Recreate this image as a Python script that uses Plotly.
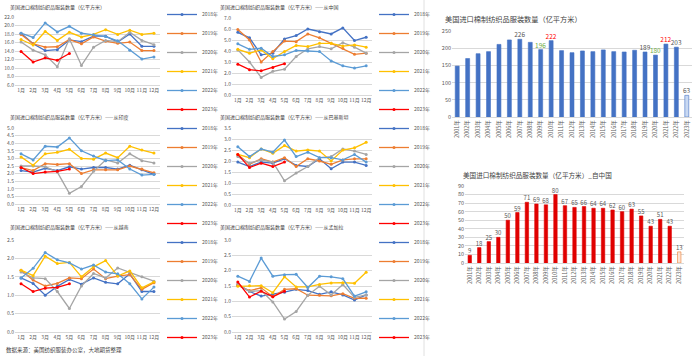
import plotly.graph_objects as go

W, H = 700, 356
FONT = "Noto Sans CJK SC, Noto Sans, sans-serif"
TXT = "#595959"
GRID = "#D9D9D9"

months = ["1月", "2月", "3月", "4月", "5月", "6月", "7月", "8月", "9月", "10月", "11月", "12月"]
years = ["2018年", "2019年", "2020年", "2021年", "2022年", "2023年"]
year_colors = ["#4472C4", "#ED7D31", "#A5A5A5", "#FFC000", "#5B9BD5", "#FF0000"]

# ---- monthly data (亿平方米) ----
total_2018 = [18.2, 15.7, 14.1, 14.3, 16.6, 16.2, 17.5, 17.5, 16.1, 18.0, 15.1, 15.1]
total_2019 = [17.9, 15.7, 14.9, 15.0, 16.7, 15.7, 17.3, 16.3, 15.8, 16.1, 14.1, 14.1]
total_2020 = [16.1, 14.2, 13.1, 10.3, 16.9, 10.6, 14.9, 16.5, 16.2, 18.4, 16.5, 15.5]
total_2021 = [16.7, 15.4, 18.6, 16.5, 18.4, 17.3, 17.9, 19.0, 17.9, 18.9, 17.9, 18.2]
total_2022 = [18.2, 17.2, 20.6, 18.5, 19.8, 18.2, 17.8, 17.4, 16.4, 14.2, 12.1, 12.6]
total_2023 = [13.9, 11.4, 12.4, 11.8, 13.4]

china_2018 = [5.7, 5.2, 3.65, 3.8, 5.1, 5.4, 6.0, 5.75, 5.55, 6.1, 4.95, 5.25]
china_2019 = [5.95, 5.0, 3.0, 3.95, 4.9, 4.85, 5.55, 5.2, 4.7, 4.25, 3.7, 3.8]
china_2020 = [4.1, 3.0, 1.6, 2.15, 2.35, 3.5, 4.2, 4.4, 4.2, 4.75, 4.35, 3.8]
china_2021 = [4.15, 3.8, 4.1, 3.3, 3.95, 4.5, 4.4, 4.7, 4.7, 4.45, 4.55, 4.35]
china_2022 = [4.65, 4.15, 4.25, 3.5, 3.65, 4.05, 4.0, 3.95, 3.1, 2.65, 2.45, 2.65]
china_2023 = [2.8, 2.3, 2.2, 2.5, 2.85]

india_2018 = [2.2, 2.1, 2.35, 2.2, 2.45, 2.3, 2.4, 2.4, 2.3, 2.55, 2.25, 1.95]
india_2019 = [2.4, 2.2, 2.65, 2.6, 2.65, 2.0, 2.25, 2.25, 2.25, 2.5, 2.3, 2.05]
india_2020 = [2.5, 2.5, 2.45, 2.1, 0.7, 1.15, 2.15, 2.9, 2.7, 3.3, 2.85, 2.7]
india_2021 = [3.1, 2.55, 3.3, 3.4, 3.6, 3.0, 2.95, 3.35, 3.05, 3.8, 3.55, 3.35]
india_2022 = [3.3, 2.9, 3.8, 3.75, 4.35, 3.5, 3.15, 2.85, 2.9, 2.3, 1.9, 1.95]
india_2023 = [2.4, 2.0, 2.1, 2.15, 2.3]

pak_2018 = [1.95, 1.75, 1.95, 1.9, 2.1, 1.8, 1.75, 2.1, 1.65, 1.95, 1.95, 1.8]
pak_2019 = [2.3, 1.85, 2.1, 1.95, 2.15, 1.75, 2.1, 2.0, 1.85, 2.05, 2.1, 2.1]
pak_2020 = [2.2, 1.9, 2.05, 1.95, 1.1, 1.45, 1.75, 2.15, 2.2, 2.55, 2.45, 2.3]
pak_2021 = [2.3, 2.15, 2.55, 2.35, 2.7, 2.45, 2.5, 2.45, 2.0, 2.5, 2.6, 2.85]
pak_2022 = [2.65, 2.2, 2.55, 2.4, 2.95, 2.2, 2.4, 2.15, 2.15, 2.05, 2.3, 1.95]
pak_2023 = [2.3, 1.7, 1.9, 1.75, 1.95]

vn_2018 = [1.47, 1.32, 1.0, 1.24, 1.43, 1.3, 1.47, 1.35, 1.31, 1.58, 1.1, 1.1]
vn_2019 = [1.68, 1.41, 1.25, 1.32, 1.47, 1.45, 1.71, 1.45, 1.52, 1.56, 1.16, 1.34]
vn_2020 = [1.63, 1.47, 1.45, 1.1, 0.64, 1.25, 1.59, 1.47, 1.74, 1.63, 1.5, 1.38]
vn_2021 = [1.68, 1.53, 2.06, 1.86, 1.89, 1.5, 1.77, 1.94, 1.52, 1.66, 1.2, 1.36]
vn_2022 = [1.47, 1.73, 2.16, 1.96, 1.88, 1.71, 1.82, 1.63, 1.58, 1.31, 0.9, 1.22]
vn_2023 = [1.31, 1.1, 1.19, 1.21, 1.31]

bd_2018 = [1.54, 1.32, 1.17, 1.23, 1.3, 1.39, 1.35, 1.23, 1.31, 1.21, 1.04, 1.21]
bd_2019 = [1.52, 1.35, 1.44, 1.15, 1.39, 1.41, 1.2, 1.2, 1.18, 1.25, 1.1, 1.1]
bd_2020 = [1.57, 1.32, 1.35, 0.98, 0.42, 0.67, 1.2, 1.49, 1.21, 1.55, 1.13, 1.21]
bd_2021 = [1.49, 1.51, 1.51, 1.28, 1.8, 1.47, 1.47, 1.55, 1.6, 1.61, 1.59, 1.95]
bd_2022 = [1.82, 1.65, 2.41, 1.82, 1.87, 1.88, 1.45, 1.82, 1.8, 1.74, 1.17, 1.31]
bd_2023 = [1.63, 1.14, 1.33, 1.15, 1.33]

# ---- annual data ----
annual_years = ["2001年", "2002年", "2003年", "2004年", "2005年", "2006年", "2007年", "2008年",
                "2009年", "2010年", "2011年", "2012年", "2013年", "2014年", "2015年", "2016年",
                "2017年", "2018年", "2019年", "2020年", "2021年", "2022年", "2023年"]
annual_total = [148, 170, 184, 190, 211, 224, 226, 217, 196, 222, 193, 187, 192, 190, 195, 190,
                189, 194, 189, 180, 212, 203, 63]
annual_total_labeled = ["2007年", "2009年", "2010年", "2019年", "2020年", "2021年", "2022年", "2023年"]
annual_china = [9, 18, 25, 30, 50, 59, 71, 69, 68, 80, 67, 65, 66, 64, 64, 62, 60, 63, 55, 43, 51, 43, 13]

BASE_TITLE = "美国进口棉制纺织品服装数量（亿平方米）"
line_charts = [
    (BASE_TITLE, [total_2018, total_2019, total_2020, total_2021, total_2022, total_2023], (6, 22), 2),
    (BASE_TITLE + "——从中国", [china_2018, china_2019, china_2020, china_2021, china_2022, china_2023], (0, 7), 1),
    (BASE_TITLE + "——从印度", [india_2018, india_2019, india_2020, india_2021, india_2022, india_2023], (0, 5), 0.5),
    (BASE_TITLE + "——从巴基斯坦", [pak_2018, pak_2019, pak_2020, pak_2021, pak_2022, pak_2023], (0, 3.5), 0.5),
    (BASE_TITLE + "——从越南", [vn_2018, vn_2019, vn_2020, vn_2021, vn_2022, vn_2023], (0, 2.5), 0.5),
    (BASE_TITLE + "——从孟加拉", [bd_2018, bd_2019, bd_2020, bd_2021, bd_2022, bd_2023], (0, 3), 0.5),
]

# pixel boxes: (x0, x1, ytop, ybottom), title pos, legend top-left
line_boxes = [
    ((15, 160, 17, 85), (8, 7), (162, 0)),
    ((232, 372, 18, 95), (218, 7), (374, 0)),
    ((15, 160, 128, 204), (8, 117), (162, 114)),
    ((232, 372, 128, 205), (218, 117), (374, 114)),
    ((15, 160, 240, 332), (8, 227), (162, 228)),
    ((232, 372, 240, 332), (218, 227), (374, 228)),
]


def px_x(p):
    return p / W


def px_y(p):
    return 1 - p / H


fig = go.Figure()
layout = {}
annotations = []

for i, ((title, series, yr, dt), (box, tpos, lpos)) in enumerate(zip(line_charts, line_boxes)):
    n = i + 1
    xa = "x" if n == 1 else f"x{n}"
    ya = "y" if n == 1 else f"y{n}"
    leg = "legend" if n == 1 else f"legend{n}"
    for yname, col, vals in zip(years, year_colors, series):
        fig.add_trace(go.Scatter(
            x=months[:len(vals)], y=vals, name=yname, mode="lines+markers",
            line=dict(color=col, width=1.3), marker=dict(color=col, size=3),
            xaxis=xa, yaxis=ya, legend=leg, cliponaxis=False,
        ))
    x0, x1, yt, yb = box
    layout["xaxis" if n == 1 else f"xaxis{n}"] = dict(
        domain=[px_x(x0), px_x(x1)], anchor=ya, type="category",
        categoryorder="array", categoryarray=months, range=[-0.5, 11.5],
        showgrid=False, showline=True, linecolor=GRID, linewidth=1, ticks="", tickangle=0,
        tickfont=dict(size=5, color=TXT, family=FONT), fixedrange=True,
    )
    layout["yaxis" if n == 1 else f"yaxis{n}"] = dict(
        domain=[px_y(yb), px_y(yt)], anchor=xa, range=list(yr), dtick=dt, tick0=0,
        tickformat=".1f", showgrid=True, gridcolor=GRID, gridwidth=0.8, zeroline=False,
        showline=False, ticks="", tickfont=dict(size=5, color=TXT, family=FONT), fixedrange=True,
    )
    layout[leg] = dict(
        xref="container", yref="container",
        x=px_x(lpos[0]), y=px_y(lpos[1]), xanchor="left", yanchor="top",
        bgcolor="rgba(0,0,0,0)", font=dict(size=5, color=TXT, family=FONT),
        itemwidth=30, borderwidth=0,
    )
    annotations.append(dict(
        text=title, x=px_x(tpos[0]), y=px_y(tpos[1]), xref="paper", yref="paper",
        xanchor="left", yanchor="middle", showarrow=False,
        font=dict(size=5, color="#404040", family=FONT),
    ))

# ---- bar chart 1: total ----
bar1_colors = ["#4472C4"] * (len(annual_years) - 1) + ["#C9D9F2"]
label_color_map = {"2009年": "#70AD47", "2020年": "#70AD47", "2010年": "#FF0000", "2021年": "#FF0000"}
bar1_text = [str(v) if y in annual_total_labeled else "" for y, v in zip(annual_years, annual_total)]
bar1_text_colors = [label_color_map.get(y, TXT) for y in annual_years]
fig.add_trace(go.Bar(
    x=annual_years, y=annual_total, xaxis="x7", yaxis="y7", showlegend=False,
    marker=dict(color=bar1_colors, line=dict(color="#4472C4", width=0.6)), width=0.38,
    text=bar1_text, textposition="outside", cliponaxis=False, constraintext="none",
    textfont=dict(size=6.5, color=bar1_text_colors, family=FONT),
))
# ---- bar chart 2: from China ----
bar2_colors = ["#E00000"] * (len(annual_years) - 1) + ["#FCE4D6"]
bar2_lines = ["#E00000"] * (len(annual_years) - 1) + ["#ED7D31"]
fig.add_trace(go.Bar(
    x=annual_years, y=annual_china, xaxis="x8", yaxis="y8", showlegend=False,
    marker=dict(color=bar2_colors, line=dict(color=bar2_lines, width=0.6)), width=0.36,
    text=[str(v) for v in annual_china], textposition="outside", cliponaxis=False,
    constraintext="none",
    textfont=dict(size=6, color=TXT, family=FONT),
))

for n, box, yr, dt in [(7, (452, 692, 31, 117), (0, 250), 50), (8, (465, 684, 186, 263), (0, 90), 10)]:
    x0, x1, yt, yb = box
    layout[f"xaxis{n}"] = dict(
        domain=[px_x(x0), px_x(x1)], anchor=f"y{n}", type="category",
        showgrid=False, showline=True, linecolor=GRID, ticks="", tickangle=-90,
        tickfont=dict(size=5.5, color=TXT, family=FONT), fixedrange=True,
    )
    layout[f"yaxis{n}"] = dict(
        domain=[px_y(yb), px_y(yt)], anchor=f"x{n}", range=list(yr), dtick=dt,
        showgrid=True, gridcolor=GRID, gridwidth=0.8, zeroline=False, ticks="",
        tickfont=dict(size=5.5, color=TXT, family=FONT), fixedrange=True,
    )

annotations.append(dict(
    text=BASE_TITLE, x=px_x(443), y=px_y(19), xref="paper", yref="paper",
    xanchor="left", yanchor="middle", showarrow=False,
    font=dict(size=7.2, color="#404040", family=FONT),
))
annotations.append(dict(
    text=BASE_TITLE + "_自中国", x=px_x(461), y=px_y(175), xref="paper", yref="paper",
    xanchor="left", yanchor="middle", showarrow=False,
    font=dict(size=6.6, color="#404040", family=FONT),
))
annotations.append(dict(
    text="数据来源：美国纺织服装办公室，大地期货整理", x=px_x(4), y=px_y(350), xref="paper", yref="paper",
    xanchor="left", yanchor="middle", showarrow=False,
    font=dict(size=5.5, color="#404040", family=FONT),
))

fig.update_layout(
    width=W, height=H, margin=dict(l=0, r=0, t=0, b=0, autoexpand=False),
    paper_bgcolor="white", plot_bgcolor="white",
    annotations=annotations, bargap=0.6,
    shapes=[dict(type="line", xref="paper", yref="paper", x0=px_x(424), x1=px_x(424), y0=0, y1=1,
                 line=dict(color="#E0E0E0", width=1))],
    **layout,
)

fig.write_html("out.html", config={"displayModeBar": False},
               post_script="document.body.style.margin='0';")
